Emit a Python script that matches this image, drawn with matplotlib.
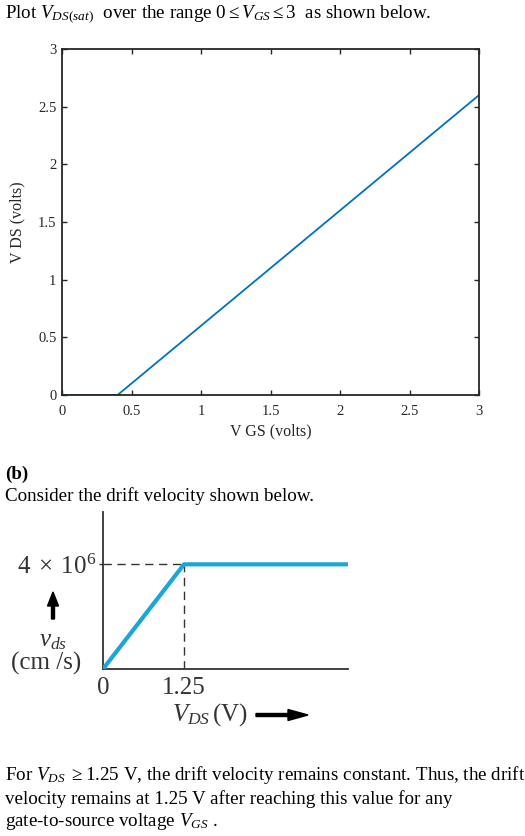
import matplotlib
matplotlib.use("Agg")
import matplotlib.pyplot as plt
from matplotlib.patches import FancyArrow

plt.rcParams['font.family'] = ['Liberation Serif', 'DejaVu Serif']
plt.rcParams['mathtext.fontset'] = 'custom'
plt.rcParams['mathtext.rm'] = 'Liberation Serif'
plt.rcParams['mathtext.it'] = 'Liberation Serif:italic'
plt.rcParams['mathtext.bf'] = 'Liberation Serif:bold'

# ---- data ----
vgs = [0.0, 0.4, 3.0]
vds_sat = [0.0, 0.0, 2.6]
xticks_top = [0, 0.5, 1, 1.5, 2, 2.5, 3]
yticks_top = [0, 0.5, 1, 1.5, 2, 2.5, 3]
tick_labels_top = ['0', '0.5', '1', '1.5', '2', '2.5', '3']

vds_drift = [0.0, 1.25, 3.78]
v_drift = [0.0, 4e6, 4e6]
v_sat = 4e6
vds_knee = 1.25

W, H = 525, 836
fig = plt.figure(figsize=(W / 100, H / 100), dpi=100)


def box(l, t, r, b):
    return [l / W, 1 - b / H, (r - l) / W, (b - t) / H]


# ---- top plot ----
ax = fig.add_axes(box(62, 49, 479, 395))
ax.plot(vgs, vds_sat, color='#0072BD', lw=1.3)
ax.set_xlim(0, 3)
ax.set_ylim(0, 3)
ax.set_xticks(xticks_top)
ax.set_yticks(yticks_top)
ax.set_xticklabels(tick_labels_top)
ax.set_yticklabels(tick_labels_top)
ax.tick_params(direction='in', top=True, right=True, length=3.5, width=1.0,
               labelsize=10.5, colors='#262626')
ax.tick_params(axis='x', pad=7)
ax.tick_params(axis='y', pad=4)
for s in ax.spines.values():
    s.set_linewidth(1.3)
    s.set_color('#262626')
ax.set_xlabel('V GS (volts)', fontsize=11.5, color='#262626', labelpad=4)
ax.set_ylabel('V DS (volts)', fontsize=11.5, color='#262626', labelpad=9)

# ---- bottom plot ----
ax2 = fig.add_axes(box(103, 512, 348, 669))
ax2.plot(vds_drift, v_drift, color='#1AA6D6', lw=3.0, solid_capstyle='butt', zorder=3)
ax2.plot([0, vds_knee], [v_sat, v_sat], color='#333333', lw=1.0, ls=(0, (6, 4)), zorder=2)
ax2.plot([vds_knee, vds_knee], [0, v_sat], color='#333333', lw=1.0, ls=(0, (6, 4)), zorder=2)
ax2.set_xlim(0, 3.78)
ax2.set_ylim(0, 6e6)
ax2.set_xticks([0, vds_knee])
ax2.set_xticklabels(['0', '1.25'])
ax2.set_yticks([v_sat])
ax2.set_yticklabels([r'$4\;\times\;10^{6}$'])
ax2.tick_params(axis='x', length=0, labelsize=18, pad=6, colors='#333333')
ax2.tick_params(axis='y', length=3, width=1.0, direction='out', labelsize=18, pad=2, colors='#333333')
ax2.spines['top'].set_visible(False)
ax2.spines['right'].set_visible(False)
for s in ('left', 'bottom'):
    ax2.spines[s].set_linewidth(1.3)
    ax2.spines[s].set_color('#333333')
ax2.set_facecolor('none')

# ---- overlay for text ----
ov = fig.add_axes([0, 0, 1, 1], zorder=-1)
ov.set_xlim(0, W)
ov.set_ylim(H, 0)
ov.axis('off')

fs = 13.7
ov.text(5, 14, r'Plot $V_{DS(sat)}$  over the range $0 \leq V_{GS} \leq 3$  as shown below.',
        fontsize=fs, va='center', ha='left')
ov.text(5, 474, '(b)', fontsize=fs, fontweight='bold', va='center', ha='left')
ov.text(5, 496, 'Consider the drift velocity shown below.', fontsize=fs, va='center', ha='left')
ov.text(5, 775, r'For $V_{DS}$ $\geq$1.25 V, the drift velocity remains constant. Thus, the drift',
        fontsize=fs, va='center', ha='left')
ov.text(5, 799, 'velocity remains at 1.25 V after reaching this value for any',
        fontsize=fs, va='center', ha='left')
ov.text(5, 821, r'gate-to-source voltage $V_{GS}$ .', fontsize=fs, va='center', ha='left')

# drift plot annotations
ov.add_patch(FancyArrow(53, 619, 0, -27, width=3.0, head_width=11, head_length=14,
                        length_includes_head=True, color='black'))
ov.text(53, 641, r'$v_{ds}$', fontsize=18, ha='center', va='center', color='#333333')
ov.text(46, 663, '(cm /s)', fontsize=18, ha='center', va='center', color='#333333')
ov.text(210, 715, r'$V_{DS}\,$(V)', fontsize=18, ha='center', va='center', color='#333333')
ov.add_patch(FancyArrow(256, 715, 52, 0, width=3.0, head_width=11, head_length=20,
                        length_includes_head=True, color='black'))

fig.savefig('out.png', dpi=100)
